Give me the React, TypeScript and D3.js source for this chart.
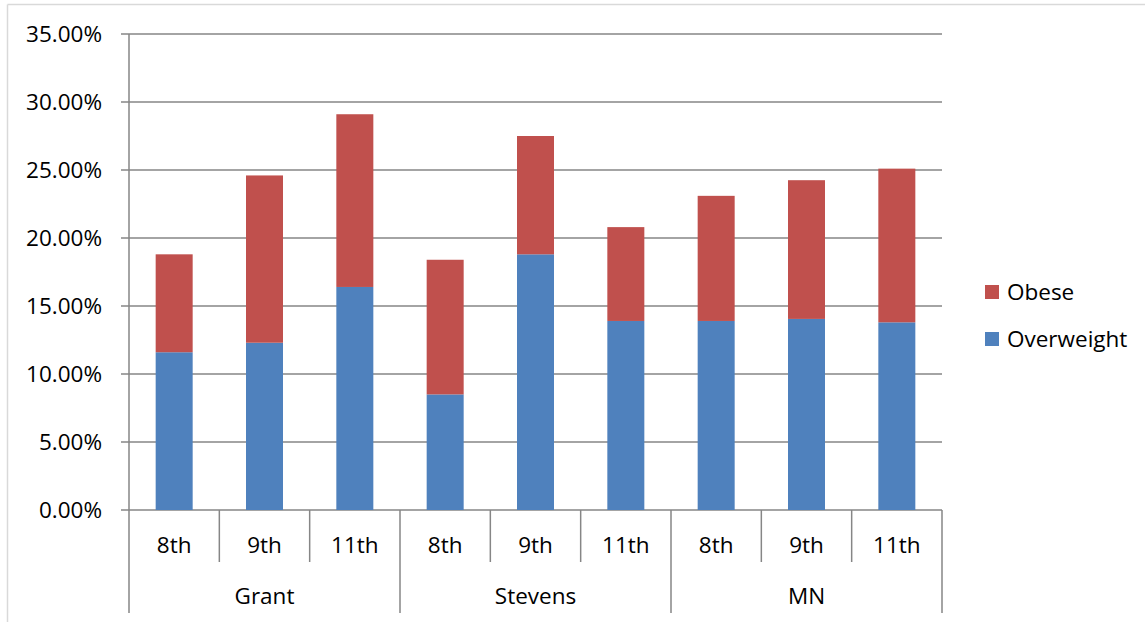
import React from "react";
import * as d3 from "d3";

const groups = ["Grant", "Stevens", "MN"];
const grades = ["8th", "9th", "11th"];
const overweight = [11.6, 12.3, 16.4, 8.5, 18.8, 13.9, 13.9, 14.05, 13.8];
const obese = [7.2, 12.3, 12.7, 9.9, 8.7, 6.9, 9.2, 10.2, 11.3];
const yTicks = [0, 5, 10, 15, 20, 25, 30, 35];
const seriesNames = ["Obese", "Overweight"];
const seriesColors = ["#c0504d", "#4f81bd"];

const W = 1145;
const H = 622;
const left = 129;
const right = 942;
const top = 34;
const bottom = 510;
const font = "'Open Sans', 'Liberation Sans', sans-serif";
const fs = 22.5;

export default function App() {
  const cats = groups.flatMap((g) => grades.map((gr) => `${g}-${gr}`));
  const x = d3.scaleBand<string>().domain(cats).range([left, right]).paddingInner(0).paddingOuter(0);
  const y = d3.scaleLinear().domain([0, 35]).range([bottom, top]);
  const barW = 37;
  const rows = cats.map((c, i) => ({ key: c, ow: overweight[i], ob: obese[i] }));
  const stack = d3.stack<any>().keys(["ow", "ob"])(rows);
  const colorOf: Record<string, string> = { ow: seriesColors[1], ob: seriesColors[0] };
  const groupW = x.bandwidth() * grades.length;
  const axisColor = "#868686";

  return (
    <svg width={W} height={H} style={{ position: "absolute", left: 0, top: 0, background: "#fff" }}>
      {/* outer frame */}
      <line x1={7.5} y1={4.5} x2={W} y2={4.5} stroke="#d9d9d9" strokeWidth={1.5} />
      <line x1={7.5} y1={4.5} x2={7.5} y2={H} stroke="#d9d9d9" strokeWidth={1.5} />

      {/* gridlines and y labels */}
      {yTicks.map((t) => (
        <g key={t}>
          <line x1={left - 8} x2={right} y1={y(t)} y2={y(t)} stroke={axisColor} strokeWidth={1.5} />
          <text x={left - 27} y={y(t)} dy="0.35em" textAnchor="end" fontFamily={font} fontSize={fs} fill="#000">
            {t.toFixed(2)}%
          </text>
        </g>
      ))}
      <line x1={left} x2={left} y1={top} y2={bottom} stroke={axisColor} strokeWidth={1.5} />

      {/* stacked bars */}
      {stack.map((s) =>
        s.map((d, i) => (
          <rect
            key={`${s.key}-${i}`}
            x={(x(cats[i]) as number) + x.bandwidth() / 2 - barW / 2}
            width={barW}
            y={y(d[1])}
            height={y(d[0]) - y(d[1])}
            fill={colorOf[s.key]}
          />
        ))
      )}

      {/* category axis */}
      {cats.map((c, i) => {
        const x0 = x(c) as number;
        const isGroupStart = i % grades.length === 0;
        return (
          <g key={c}>
            <line x1={x0} x2={x0} y1={bottom} y2={isGroupStart ? 613 : 562} stroke={axisColor} strokeWidth={1.5} />
            <text x={x0 + x.bandwidth() / 2} y={545} dy="0.35em" textAnchor="middle" fontFamily={font} fontSize={fs} fill="#000">
              {grades[i % grades.length]}
            </text>
          </g>
        );
      })}
      <line x1={right} x2={right} y1={bottom} y2={613} stroke={axisColor} strokeWidth={1.5} />
      {groups.map((g, gi) => (
        <text key={g} x={left + groupW * gi + groupW / 2} y={596} dy="0.35em" textAnchor="middle" fontFamily={font} fontSize={fs} fill="#000">
          {g}
        </text>
      ))}

      {/* legend */}
      {seriesNames.map((n, i) => (
        <g key={n} transform={`translate(985, ${285 + i * 47})`}>
          <rect width={14} height={14} fill={seriesColors[i]} />
          <text x={22} y={7} dy="0.35em" fontFamily={font} fontSize={fs} fill="#000">
            {n}
          </text>
        </g>
      ))}
    </svg>
  );
}
